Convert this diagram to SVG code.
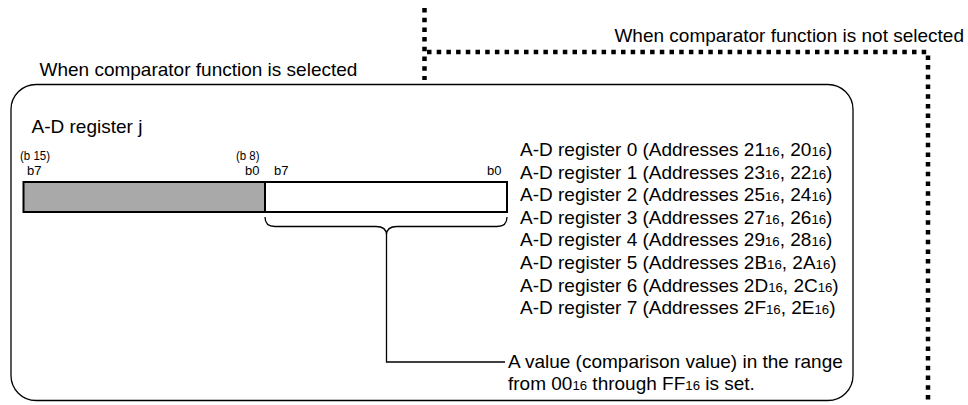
<svg xmlns="http://www.w3.org/2000/svg" width="968" height="405" viewBox="0 0 968 405">
<style>
text{font-family:"Liberation Sans",Arial,sans-serif;fill:#000}
.t{font-size:19px}
.s{font-size:13.2px}
.b{font-size:13px}
.dot{fill:none;stroke:#000;stroke-width:4.5;stroke-dasharray:4.5 5.2}
.ln{fill:none;stroke:#000;stroke-width:1.3}
</style>
<rect width="968" height="405" fill="#fff"/>
<g id="labels">
<text class="t" x="39.5" y="76">When comparator function is selected</text>
<text class="t" x="964" y="42" text-anchor="end">When comparator function is not selected</text>
</g>
<g id="connectors">
<path class="dot" d="M424.5 8V80"/>
<path class="dot" d="M427 52H928V402"/>
<path class="ln" d="M265 217Q265 226.5 275 226.5H376Q386.5 226.5 386.5 235Q386.5 226.5 397 226.5H497Q507 226.5 507 217"/>
<path class="ln" d="M386.5 235V362H505"/>
</g>
<g id="box">
<rect x="11" y="84.5" width="842" height="316" rx="25" ry="25" fill="none" stroke="#000" stroke-width="1.3"/>
<text class="t" x="31.5" y="133">A-D register j</text>
</g>
<g id="register">
<rect x="23.5" y="182" width="241.5" height="30" fill="#a9a9a9" stroke="#000" stroke-width="2"/>
<rect x="265" y="182" width="242" height="30" fill="#fff" stroke="#000" stroke-width="2"/>
<text class="b" x="20" y="160" textLength="30" lengthAdjust="spacingAndGlyphs">(b 15)</text>
<text class="b" x="27" y="175">b7</text>
<text class="b" x="236" y="160" textLength="23.5" lengthAdjust="spacingAndGlyphs">(b 8)</text>
<text class="b" x="245" y="175">b0</text>
<text class="b" x="274" y="175">b7</text>
<text class="b" x="487" y="175">b0</text>
</g>
<g id="list">
<text class="t" x="520" y="156">A-D register 0 (Addresses 21<tspan class="s">16</tspan>, 20<tspan class="s">16</tspan>)</text>
<text class="t" x="520" y="178.6">A-D register 1 (Addresses 23<tspan class="s">16</tspan>, 22<tspan class="s">16</tspan>)</text>
<text class="t" x="520" y="201.2">A-D register 2 (Addresses 25<tspan class="s">16</tspan>, 24<tspan class="s">16</tspan>)</text>
<text class="t" x="520" y="223.8">A-D register 3 (Addresses 27<tspan class="s">16</tspan>, 26<tspan class="s">16</tspan>)</text>
<text class="t" x="520" y="246.4">A-D register 4 (Addresses 29<tspan class="s">16</tspan>, 28<tspan class="s">16</tspan>)</text>
<text class="t" x="520" y="269">A-D register 5 (Addresses 2B<tspan class="s">16</tspan>, 2A<tspan class="s">16</tspan>)</text>
<text class="t" x="520" y="291.6">A-D register 6 (Addresses 2D<tspan class="s">16</tspan>, 2C<tspan class="s">16</tspan>)</text>
<text class="t" x="520" y="314.2">A-D register 7 (Addresses 2F<tspan class="s">16</tspan>, 2E<tspan class="s">16</tspan>)</text>
</g>
<g id="note">
<text class="t" x="508" y="367.5">A value (comparison value) in the range</text>
<text class="t" x="508" y="390">from 00<tspan class="s">16</tspan> through FF<tspan class="s">16</tspan> is set.</text>
</g>
</svg>
